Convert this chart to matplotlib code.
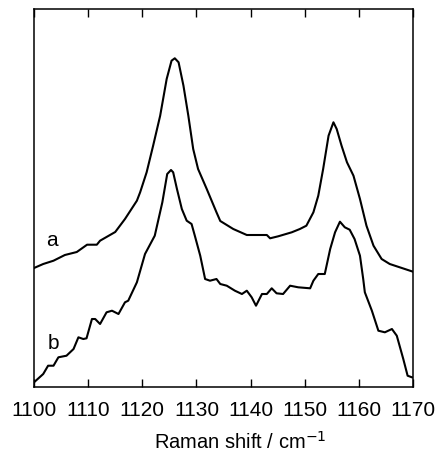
import numpy as np
import matplotlib.pyplot as plt

plt.rcParams['font.family'] = ['Liberation Sans', 'DejaVu Sans']

# spectrum a (upper trace)
wn_a = [1100.0, 1101.7, 1103.6, 1105.7, 1107.9, 1109.8, 1111.6, 1112.2, 1115.0, 1116.8,
        1119.0, 1119.6, 1120.8, 1122.0, 1123.3, 1124.5, 1125.4, 1126.0, 1126.7, 1127.6,
        1128.5, 1129.4, 1130.3, 1131.9, 1133.7, 1134.4, 1136.8, 1139.3, 1143.0, 1143.6,
        1145.1, 1147.6, 1149.1, 1150.3, 1151.6, 1152.5, 1153.4, 1154.4, 1155.3, 1155.9,
        1156.8, 1157.8, 1159.0, 1160.2, 1161.4, 1162.7, 1164.2, 1165.7, 1170.0]
int_a = [119, 123, 126.3, 132, 135, 142.3, 142.3, 146.3, 155, 168,
         186.3, 194.7, 214.7, 241.3, 271.3, 308, 326.3, 328.7, 324.7, 301.3,
         271.3, 238, 218, 198, 174.7, 166, 158, 152, 152, 148.7,
         150.7, 154.7, 158, 161.3, 174.7, 191.3, 218, 251.3, 264.7, 258,
         241.3, 224.7, 211.3, 188, 161.3, 141.3, 128, 123, 115.3]

# spectrum b (lower trace)
wn_b = [1100.0, 1101.7, 1102.6, 1103.6, 1104.5, 1106.0, 1107.3, 1108.2, 1109.1, 1109.7,
        1110.7, 1111.3, 1112.2, 1113.4, 1114.4, 1115.6, 1116.8, 1117.4, 1119.0, 1120.5,
        1122.3, 1123.7, 1124.6, 1125.3, 1125.7, 1126.4, 1127.3, 1128.2, 1129.1, 1129.7,
        1130.7, 1131.6, 1132.5, 1133.7, 1134.4, 1135.6, 1137.1, 1138.4, 1139.3, 1140.2,
        1141.0, 1142.1, 1143.0, 1143.9, 1144.8, 1146.0, 1147.3, 1148.8, 1151.0, 1151.6,
        1152.5, 1153.7, 1154.7, 1155.6, 1156.5, 1157.4, 1158.3, 1159.2, 1160.2, 1160.8,
        1161.1, 1162.4, 1163.6, 1164.8, 1166.1, 1167.0, 1168.2, 1169.0, 1169.8]
int_b = [4.7, 13, 21.3, 21.3, 29.7, 31.3, 38, 49.7, 48, 48.7,
         68, 68, 63, 74.7, 76.3, 73, 84.7, 86.3, 104.7, 133,
         151.3, 184.7, 213, 217, 214.7, 198, 178, 166.3, 163, 151.3,
         131.3, 108, 106.3, 108, 103, 101.3, 96.3, 93, 96.3, 89.7,
         81.3, 93, 93, 98.7, 93.7, 93, 101.3, 99.7, 98.7, 106.3,
         113, 113, 138, 154.7, 165.3, 159.7, 157.3, 148, 131.3, 108,
         94.7, 76.3, 56.3, 54.7, 58, 51.3, 28, 11.3, 9.7]

xticks = [1100, 1110, 1120, 1130, 1140, 1150, 1160, 1170]

fig = plt.figure(figsize=(4.4, 4.56), dpi=100)
ax = fig.add_axes([0.0773, 0.1491, 0.8614, 0.829])

ax.plot(wn_a, int_a, color='black', lw=1.5)
ax.plot(wn_b, int_b, color='black', lw=1.5)

ax.text(1103.3, 148, 'a', fontsize=15, ha='center', va='center')
ax.text(1103.5, 45, 'b', fontsize=15, ha='center', va='center')

ax.set_xlim(1100, 1170)
ax.set_ylim(0, 378)
ax.set_xticks(xticks)
ax.set_yticks([])
ax.tick_params(axis='x', direction='in', length=6, width=1, top=True,
               labelsize=15, pad=9)
for s in ax.spines.values():
    s.set_linewidth(1.1)

ax.set_xlabel('Raman shift / cm$^{-1}$', fontsize=14.5, va='baseline')
ax.xaxis.set_label_coords(0.5435, -0.161)

fig.savefig('out.png', dpi=100)
